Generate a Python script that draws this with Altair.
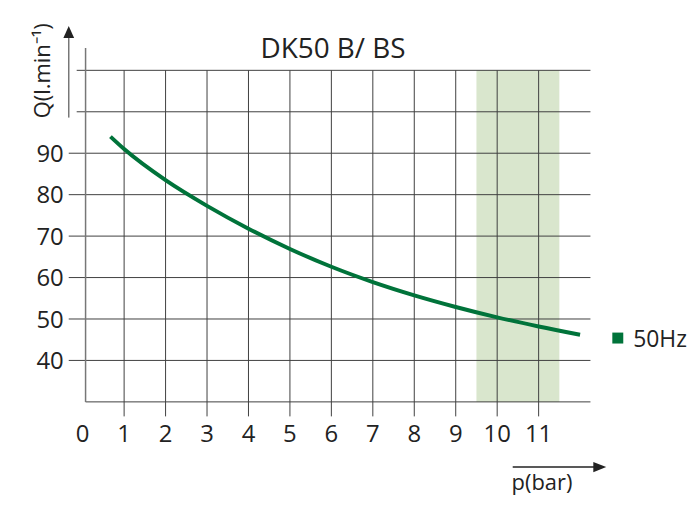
import altair as alt
import pandas as pd

# ---- data ----
pressure = [0.67, 1, 2, 3, 4, 5, 6, 7, 8, 9, 10, 11, 12]
flow = [94.0, 91.0, 83.5, 77.3, 71.8, 66.9, 62.6, 58.9, 55.7, 52.9, 50.4, 48.2, 46.2]
x_ticks = list(range(0, 12))
y_ticks = [40, 50, 60, 70, 80, 90]
grid_x = list(range(1, 12))
grid_y = [30, 40, 50, 60, 70, 80, 90, 100, 110]
band_from, band_to = 9.5, 11.5
series_name = "50Hz"
chart_title = "DK50 B/ BS"
x_title = "p(bar)"
y_title = "Q(l.min⁻¹)"

FONT = "Open Sans"
INK = "#222222"
GRID = "#404040"
GREEN = "#00733a"
BAND = "#d9e6cd"

XS = alt.Scale(domain=[0, 12.25], nice=False, zero=False)
YS = alt.Scale(domain=[30, 110], nice=False, zero=False)


def X(f="x"):
    return alt.X(f"{f}:Q", scale=XS, axis=None)


def Y(f="y"):
    return alt.Y(f"{f}:Q", scale=YS, axis=None)


# shaded operating band
band = alt.Chart(pd.DataFrame({"x": [band_from], "x2": [band_to], "y": [30], "y2": [110]})).mark_rect(
    color=BAND
).encode(x=X(), x2="x2:Q", y=Y(), y2="y2:Q")

# horizontal grid lines (labelled ones have longer ticks on the left)
h_start = [0.07 if q == 30 else (-0.336 if q in y_ticks else -0.144) for q in grid_y]
hgrid = alt.Chart(pd.DataFrame({"y": grid_y, "x": h_start, "x2": [12.25] * len(grid_y)})).mark_rule(
    color=GRID, strokeWidth=1
).encode(x=X(), x2="x2:Q", y=Y())

# vertical grid lines extending below as ticks
vgrid = alt.Chart(pd.DataFrame({"x": grid_x, "y": [26.5] * len(grid_x), "y2": [110] * len(grid_x)})).mark_rule(
    color=GRID, strokeWidth=1
).encode(x=X(), y=Y(), y2="y2:Q")

# left axis line
yline = alt.Chart(pd.DataFrame({"x": [0.07], "y": [30], "y2": [115.4]})).mark_rule(
    color="#777777", strokeWidth=1.5
).encode(x=X(), y=Y(), y2="y2:Q")

# curve
curve = alt.Chart(pd.DataFrame({"x": pressure, "y": flow, "s": [series_name] * len(pressure)})).mark_line(
    color=GREEN, strokeWidth=4, interpolate="monotone", strokeCap="butt"
).encode(x=X(), y=Y())

# y arrow
yarrow_line = alt.Chart(pd.DataFrame({"x": [-0.336], "y": [98.6], "y2": [117.8]})).mark_rule(
    color="#777777", strokeWidth=1.5
).encode(x=X(), y=Y(), y2="y2:Q")
yarrow_head = alt.Chart(pd.DataFrame({"x": [-0.336], "y": [119.25]})).mark_point(
    shape="M0,-1L0.9,1L-0.9,1Z", size=144, filled=True, color=INK, opacity=1
).encode(x=X(), y=Y())

# x arrow
xarrow_line = alt.Chart(pd.DataFrame({"x": [10.375], "x2": [12.4], "y": [14.26]})).mark_rule(
    color=INK, strokeWidth=1.5
).encode(x=X(), x2="x2:Q", y=Y())
xarrow_head = alt.Chart(pd.DataFrame({"x": [12.475], "y": [14.26]})).mark_point(
    shape="M1,0L-1,-0.8L-1,0.8Z", size=169, filled=True, color=INK, opacity=1
).encode(x=X(), y=Y())

# tick labels
xlab = alt.Chart(pd.DataFrame({"x": x_ticks, "y": [30] * len(x_ticks), "t": [str(v) for v in x_ticks]})).mark_text(
    font=FONT, fontSize=24, color=INK, align="center", baseline="alphabetic", dy=40.5
).encode(x=X(), y=Y(), text="t:N")
ylab = alt.Chart(pd.DataFrame({"x": [0] * len(y_ticks), "y": y_ticks, "t": [str(v) for v in y_ticks]})).mark_text(
    font=FONT, fontSize=24, color=INK, align="right", baseline="alphabetic", dx=-19, dy=8.8
).encode(x=X(), y=Y(), text="t:N")

# titles
title = alt.Chart(pd.DataFrame({"x": [6.04], "y": [113.0], "t": [chart_title]})).mark_text(
    font=FONT, fontSize=28, color=INK, align="center", baseline="alphabetic"
).encode(x=X(), y=Y(), text="t:N")
xtitle = alt.Chart(pd.DataFrame({"x": [11.08], "y": [8.7], "t": [x_title]})).mark_text(
    font=FONT, fontSize=22, color=INK, align="center", baseline="alphabetic"
).encode(x=X(), y=Y(), text="t:N")
ytitle = alt.Chart(pd.DataFrame({"x": [-0.957], "y": [109.9], "t": [y_title]})).mark_text(
    font=FONT, fontSize=22, color=INK, align="center", baseline="middle", angle=270
).encode(x=X(), y=Y(), text="t:N")

# legend
leg_sym = alt.Chart(pd.DataFrame({"x": [12.91], "y": [45.4]})).mark_point(
    shape="square", size=121, filled=True, color=GREEN, opacity=1
).encode(x=X(), y=Y())
leg_txt = alt.Chart(pd.DataFrame({"x": [13.28], "y": [43.33], "t": [series_name]})).mark_text(
    font=FONT, fontSize=23, color=INK, align="left", baseline="alphabetic"
).encode(x=X(), y=Y(), text="t:N")

chart = alt.layer(
    band, hgrid, vgrid, yline, curve,
    yarrow_line, yarrow_head, xarrow_line, xarrow_head,
    xlab, ylab, title, xtitle, ytitle, leg_sym, leg_txt,
).properties(
    width=510, height=333,
    autosize=alt.AutoSizeParams(type="none"),
    padding={"left": 75, "top": 61.5, "right": 100, "bottom": 110},
).configure_view(stroke=None)

chart.save("out.html", embed_options={"renderer": "svg", "actions": False})
